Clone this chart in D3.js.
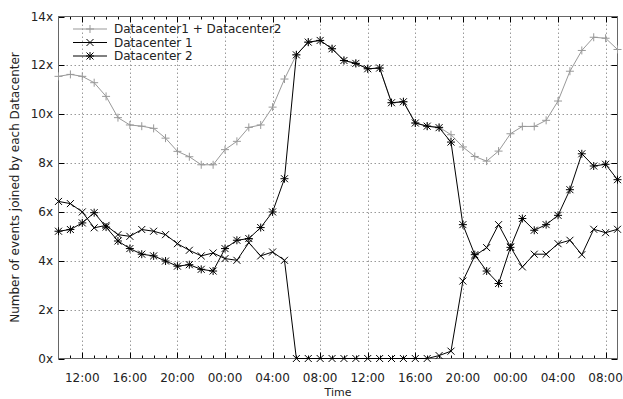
<!DOCTYPE html>
<html><head><meta charset="utf-8">
<script src="https://cdnjs.cloudflare.com/ajax/libs/d3/7.8.5/d3.min.js"></script>
<style>
body{margin:0;background:#fff;}
text{font-family:"DejaVu Sans",Verdana,sans-serif;font-size:12px;fill:#222;}
</style></head>
<body><svg id="chart" width="623" height="399"></svg>
<script>
// Hourly samples from 10:00 (day 1) to 09:00 (day 3)
const startHour = 10;
const hourCount = 48;
const xTickHours = [2, 6, 10, 14, 18, 22, 26, 30, 34, 38, 42, 46]; // offsets from start
const xTickLabels = ["12:00","16:00","20:00","00:00","04:00","08:00","12:00","16:00","20:00","00:00","04:00","08:00"];
const yTicks = [0, 2, 4, 6, 8, 10, 12, 14];
const yTickLabels = ["0x","2x","4x","6x","8x","10x","12x","14x"];
const seriesNames = ["Datacenter1 + Datacenter2", "Datacenter 1", "Datacenter 2"];

const total = [11.55, 11.63, 11.55, 11.29, 10.73, 9.86, 9.56, 9.51, 9.42, 9.02, 8.48, 8.26, 7.93, 7.93, 8.55, 8.89, 9.46, 9.56, 10.29, 11.44,
  12.43, 12.95, 13.02, 12.68, 12.2, 12.08, 11.86, 11.89, 10.47, 10.51, 9.64, 9.51,
  9.47, 9.16,
  8.66, 8.27, 8.08, 8.49, 9.2, 9.5, 9.5, 9.75, 10.54, 11.76, 12.61, 13.15, 13.11, 12.65];
const dc1 = [6.43, 6.34, 6.0, 5.35, 5.45, 5.07, 5.0, 5.28, 5.21, 5.07, 4.7, 4.43, 4.2, 4.32, 4.09, 4.02, 4.74, 4.2, 4.36, 4.02,
  0, 0, 0, 0, 0, 0, 0, 0, 0, 0, 0, 0,
  0.12, 0.3,
  3.17, 4.2, 4.54, 5.48, 4.57, 3.75, 4.27, 4.27, 4.7, 4.84, 4.25, 5.29, 5.15, 5.29];
const dc2 = [5.21, 5.28, 5.55, 5.97, 5.38, 4.81, 4.5, 4.27, 4.2, 3.99, 3.78, 3.84, 3.65, 3.58, 4.5, 4.84, 4.91, 5.36, 6.0, 7.36,
  12.43, 12.95, 13.02, 12.68, 12.2, 12.08, 11.86, 11.89, 10.47, 10.51, 9.64, 9.51,
  9.45, 8.86,
  5.48, 4.25, 3.58, 3.07, 4.55, 5.73, 5.25, 5.48, 5.86, 6.91, 8.38, 7.88, 7.95, 7.32];

const svg = d3.select("#chart");
const L = 58.5, R = 617.5, T = 16.5, B = 358.5;
const x = d3.scaleLinear().domain([0, hourCount - 1]).range([L, R]);
const y = d3.scaleLinear().domain([0, 14]).range([B, T]);

// grid
const g = svg.append("g");
g.selectAll(".gx").data(xTickHours).enter().append("line")
  .attr("x1", d => Math.round(x(d)) + 0.5).attr("x2", d => Math.round(x(d)) + 0.5)
  .attr("y1", T).attr("y2", B)
  .attr("stroke", "#9a9a9a").attr("stroke-dasharray", "1.5,2.5").attr("stroke-width", 1);
g.selectAll(".gy").data(yTicks.slice(1, -1)).enter().append("line")
  .attr("y1", d => Math.round(y(d)) + 0.5).attr("y2", d => Math.round(y(d)) + 0.5)
  .attr("x1", L).attr("x2", R)
  .attr("stroke", "#9a9a9a").attr("stroke-dasharray", "1.5,2.5").attr("stroke-width", 1);

// ticks (inward) on all sides
const hours = d3.range(hourCount);
hours.forEach(h => {
  const major = xTickHours.includes(h);
  const len = major ? 6 : 3;
  const xx = Math.round(x(h)) + 0.5;
  if (h === 0 || h === hourCount - 1) return;
  svg.append("line").attr("x1", xx).attr("x2", xx).attr("y1", B).attr("y2", B - len).attr("stroke", "#000");
  svg.append("line").attr("x1", xx).attr("x2", xx).attr("y1", T).attr("y2", T + len).attr("stroke", "#000");
});
yTicks.forEach(v => {
  const yy = Math.round(y(v)) + 0.5;
  svg.append("line").attr("x1", L).attr("x2", L + 6).attr("y1", yy).attr("y2", yy).attr("stroke", "#000");
  svg.append("line").attr("x1", R).attr("x2", R - 6).attr("y1", yy).attr("y2", yy).attr("stroke", "#000");
});

// frame
svg.append("rect").attr("x", L).attr("y", T).attr("width", R - L).attr("height", B - T)
  .attr("fill", "none").attr("stroke", "#666").attr("stroke-width", 1);

// tick labels
svg.selectAll(".yl").data(yTicks).enter().append("text")
  .attr("x", 53).attr("y", d => y(d) + 4).attr("text-anchor", "end")
  .text((d, i) => yTickLabels[i]);
svg.selectAll(".xl").data(xTickHours).enter().append("text")
  .attr("x", d => x(d)).attr("y", 381.5).attr("text-anchor", "middle")
  .text((d, i) => xTickLabels[i]);

// axis titles
svg.append("text").attr("x", (L + R) / 2).attr("y", 396).attr("text-anchor", "middle")
  .style("font-size", "11px").text("Time");
svg.append("text").attr("transform", "translate(19," + ((T + B) / 2) + ") rotate(-90)")
  .attr("text-anchor", "middle").text("Number of events joined by each Datacenter");

// markers
function marker(sel, type, color) {
  const s = 3.5;
  let p = "";
  if (type === "plus" || type === "star") p += `M${-s-0.5},0H${s+0.5}M0,${-s-0.5}V${s+0.5}`;
  if (type === "cross" || type === "star") p += `M${-s},${-s}L${s},${s}M${-s},${s}L${s},${-s}`;
  sel.append("path").attr("d", p).attr("stroke", color).attr("stroke-width", 1).attr("fill", "none");
}

const series = [
  {vals: total, color: "#999999", type: "plus"},
  {vals: dc1, color: "#000000", type: "cross"},
  {vals: dc2, color: "#000000", type: "star"}
];
const line = d3.line().x((d, i) => x(i)).y(d => y(d));
series.forEach(s => {
  svg.append("path").datum(s.vals).attr("d", line).attr("fill", "none")
    .attr("stroke", s.color).attr("stroke-width", 1);
  s.vals.forEach((v, i) => {
    const m = svg.append("g").attr("transform", `translate(${x(i)},${y(v)})`);
    marker(m, s.type, s.color);
  });
});

// legend
const legY = [29, 42.5, 56];
series.forEach((s, i) => {
  svg.append("line").attr("x1", 73).attr("x2", 107).attr("y1", legY[i]).attr("y2", legY[i])
    .attr("stroke", s.color).attr("stroke-width", 1);
  const m = svg.append("g").attr("transform", `translate(90,${legY[i]})`);
  marker(m, s.type, s.color);
  svg.append("text").attr("x", 114).attr("y", legY[i] + 4).text(seriesNames[i]);
});
</script>
</body></html>
